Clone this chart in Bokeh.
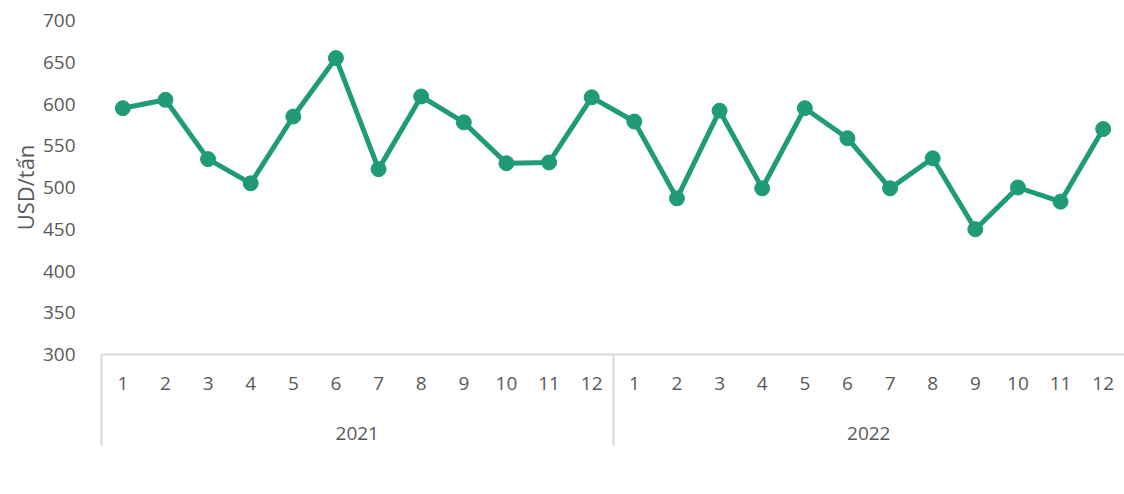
from bokeh.plotting import figure
from bokeh.models import (Legend, LegendItem, ColumnDataSource, LinearAxis,
                          FixedTicker, Range1d, Title)
from bokeh.embed import file_html
from bokeh.resources import INLINE

years = ["2021", "2022"]
months = [str(m) for m in range(1, 13)]
values_2021 = [595, 605, 534, 505, 585, 655, 522, 609, 578, 529, 530, 608]
values_2022 = [579, 487, 592, 499, 595, 559, 499, 535, 450, 500, 483, 570]
series_name = "Gạo thơm"
y_title = "USD/tấn"
y_ticks = [300, 350, 400, 450, 500, 550, 600, 650, 700]

vals = values_2021 + values_2022
n = len(vals)
xs = [i + 0.5 for i in range(n)]
month_labels = [months[i % 12] for i in range(n)]
src = ColumnDataSource(dict(x=xs, y=vals))

FONT = "Open Sans"
TXT = "#595959"
COL = "#1f9c77"
GRAY = "#d9d9d9"

p = figure(x_range=Range1d(0, n), y_range=(300, 700),
           width=1124, height=494, frame_width=1023, frame_height=334,
           output_backend="svg", toolbar_location=None, x_axis_location=None,
           min_border_left=101, min_border_top=20, min_border_right=0, min_border_bottom=140)
p.outline_line_color = None
p.xgrid.grid_line_color = None
p.ygrid.grid_line_color = None

r_line = p.line("x", "y", source=src, line_color=COL, line_width=5)
r_pt = p.scatter("x", "y", source=src, size=15, fill_color=COL, line_color=COL)

ya = p.yaxis[0]
ya.ticker = y_ticks
ya.axis_line_color = None
ya.major_tick_line_color = None
ya.minor_tick_line_color = None
ya.major_label_text_font = FONT
ya.major_label_text_font_size = "19px"
ya.major_label_text_color = TXT
ya.major_label_standoff = 20

ytitle = Title(text=y_title, align="center", text_font=FONT, text_font_size="22px",
               text_font_style="normal", text_color=TXT, standoff=0, offset=0)
p.add_layout(ytitle, "left")

# month axis, with group separators drawn as long minor ticks
month_axis = LinearAxis(
    ticker=FixedTicker(ticks=xs, minor_ticks=[0, 12]),
    major_label_overrides={x: lab for x, lab in zip(xs, month_labels)},
    axis_line_color=GRAY, axis_line_width=2,
    major_tick_line_color=None, major_tick_out=0, major_tick_in=0,
    minor_tick_line_color=GRAY, minor_tick_line_width=2, minor_tick_out=91, minor_tick_in=0,
    major_label_text_font=FONT, major_label_text_font_size="19px",
    major_label_text_color=TXT, major_label_standoff=-69)
p.add_layout(month_axis, "below")

year_ticks = [6, 18]
year_axis = LinearAxis(
    ticker=FixedTicker(ticks=year_ticks),
    major_label_overrides={t: y for t, y in zip(year_ticks, years)},
    axis_line_color=None, major_tick_line_color=None, minor_tick_line_color=None,
    major_tick_out=0, major_tick_in=0,
    major_label_text_font=FONT, major_label_text_font_size="19px",
    major_label_text_color=TXT, major_label_standoff=34)
p.add_layout(year_axis, "below")

legend = Legend(items=[LegendItem(label=series_name, renderers=[r_line, r_pt])],
                orientation="horizontal", location=(386, 0),
                label_text_font=FONT, label_text_font_size="20px", label_text_color=TXT,
                glyph_width=56, glyph_height=20, label_standoff=2,
                border_line_color=None, background_fill_alpha=0, margin=0, padding=0)
p.add_layout(legend, "below")

open("out.html", "w").write(file_html(p, INLINE))
